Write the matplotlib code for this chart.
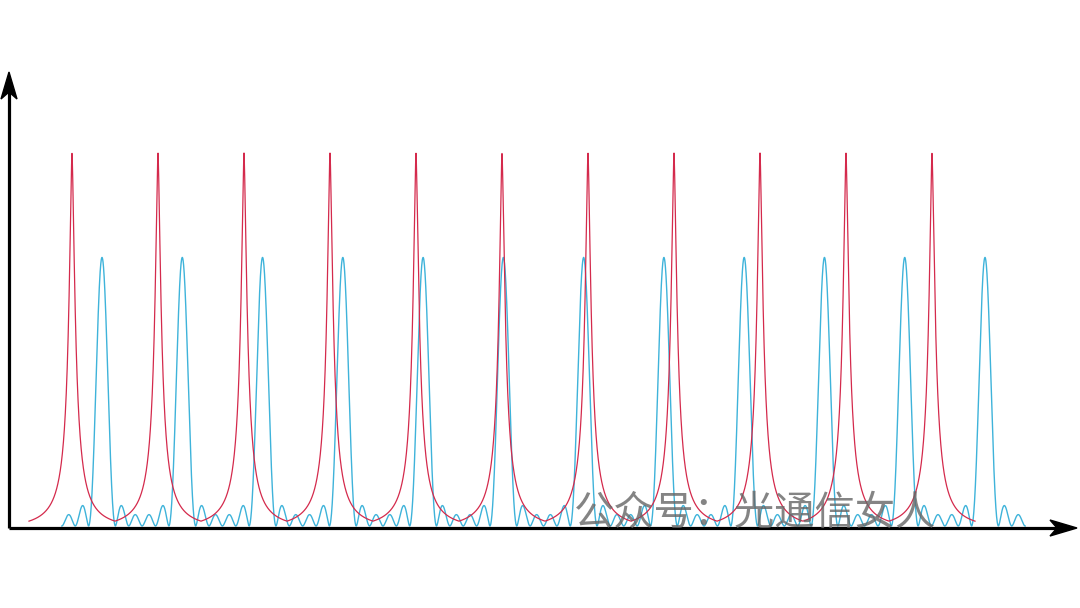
import matplotlib.pyplot as plt
import numpy as np
from matplotlib.patches import Polygon

plt.rcParams['font.family'] = ['Noto Sans CJK SC', 'DejaVu Sans']

# peak positions (horizontal pixel units)
red_peaks = [72, 158, 244, 330, 416, 502, 588, 674, 760, 846, 932]
blue_peaks = [102, 182, 263, 343, 423, 503, 584, 664, 744, 824, 905, 985]
red_height = 1.0
red_floor = 0.013     # lowest level of the red curve between peaks
red_width = 4.0       # half width of a red peak (px)
blue_height = 0.72
blue_slits = 6        # number of slits of the blue (grating) curve
watermark = "公众号：光通信女人"

red_period = np.mean(np.diff(red_peaks))
blue_period = np.mean(np.diff(blue_peaks))

# red: sharp resonance peaks
x_red = np.linspace(red_peaks[0] - red_period / 2, red_peaks[-1] + red_period / 2, 8000)
dx = np.min(np.abs(x_red[:, None] - np.array(red_peaks)[None, :]), axis=1)
prof = lambda d: 1 / (1 + np.abs(d / red_width) ** 1.55)
g_mid = prof(red_period / 2)
y_red = red_height * ((prof(dx) - g_mid) / (1 - g_mid) * (1 - red_floor) + red_floor)

# blue: multi-slit grating pattern
x_blue = np.linspace(blue_peaks[0] - blue_period / 2, blue_peaks[-1] + blue_period / 2, 8000)
psi = np.pi * (x_blue - blue_peaks[0]) / blue_period
num = np.sin(blue_slits * psi) ** 2
den = np.sin(psi) ** 2
with np.errstate(invalid="ignore", divide="ignore"):
    g = np.where(den < 1e-12, blue_slits ** 2, num / den)
y_blue = blue_height * (g / blue_slits ** 2) ** 0.9

fig = plt.figure(figsize=(10.8, 6.08), dpi=100)
ax = fig.add_axes([0, 0, 1, 1])
ax.set_xlim(0, 1080)
scale = 373.0
ax.set_ylim(-(608 - 526) / scale, 526 / scale)
ax.axis("off")

ax.plot(x_red, y_red, color="#d42a4c", lw=0.9, zorder=3)
ax.plot(x_blue, y_blue, color="#3eb3da", lw=1.0, zorder=2)

# axes with arrows
y0 = -2 / scale
ax.plot([9, 9], [y0, (526 - 92) / scale], color="black", lw=2.3, solid_capstyle="butt", zorder=5)
ax.plot([9, 1058], [y0, y0], color="black", lw=2.3, solid_capstyle="butt", zorder=5)

def px(xp, yp):
    return (xp, (526 - yp) / scale)

head_y = Polygon([px(9, 72), px(17, 99), px(9, 92), px(1, 99)], closed=True,
                 color="black", zorder=6)
head_x = Polygon([px(1077, 528), px(1050, 520), px(1057, 528), px(1050, 536)], closed=True,
                 color="black", zorder=6)
ax.add_patch(head_y)
ax.add_patch(head_x)

ax.text(574, (526 - 513) / scale, watermark, fontsize=29, color="#666666",
        alpha=0.8, fontweight="light", ha="left", va="center", zorder=7)

fig.savefig("out.png", dpi=100)
